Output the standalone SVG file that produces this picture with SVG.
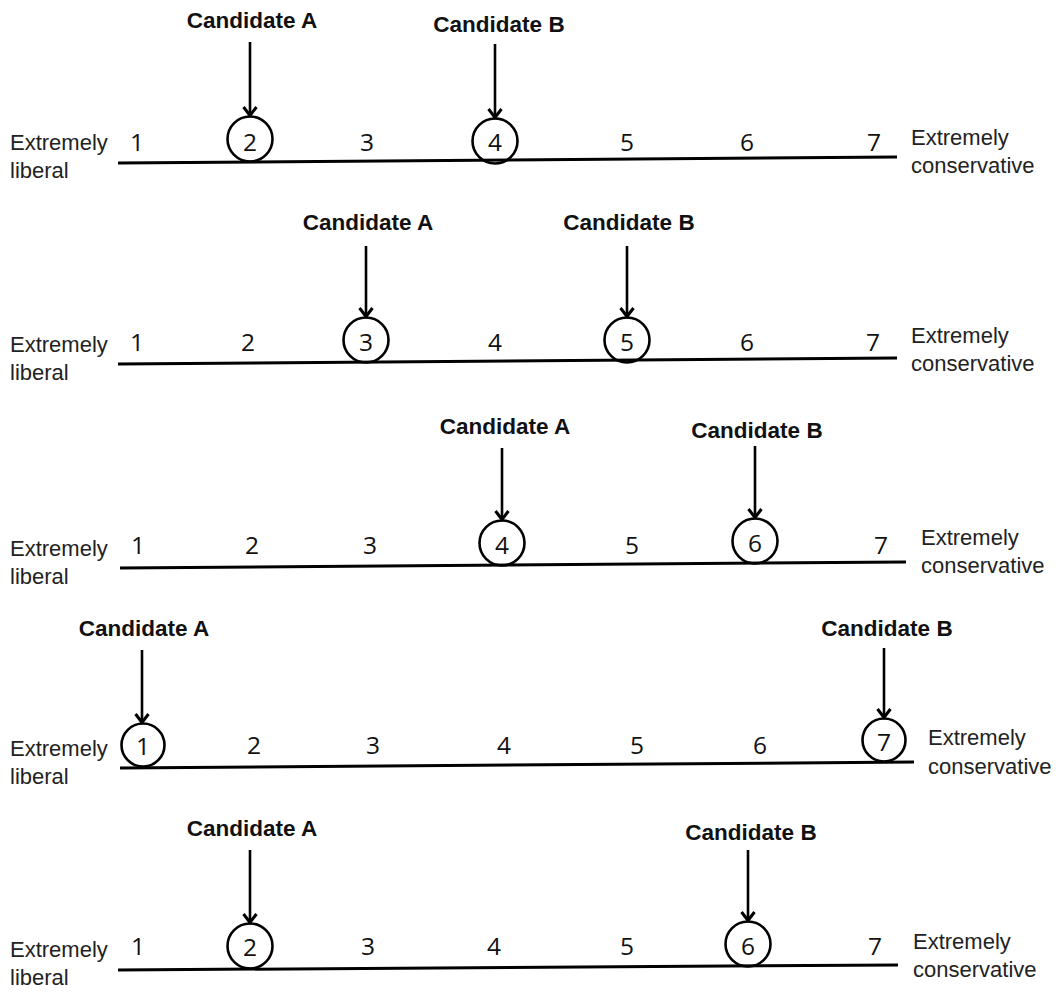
<svg xmlns="http://www.w3.org/2000/svg" width="1063" height="992" viewBox="0 0 1063 992">
<style>
.bg{fill:#fff}
.cand{font-family:"Liberation Sans",Arial,sans-serif;font-weight:bold;font-size:22.5px;fill:#111;text-anchor:middle}
.num{font-family:"Open Sans","Noto Sans",sans-serif;font-size:24.5px;fill:#111;text-anchor:middle}
.end{font-family:"Liberation Sans",Arial,sans-serif;font-size:22px;fill:#222}
.axis{stroke:#000;stroke-width:3;fill:none}
.ring{stroke:#000;stroke-width:2.6;fill:none}
.arrow{stroke:#000;stroke-width:2.6;fill:none;marker-end:url(#ah)}
</style>
<defs>
<marker id="ah" viewBox="0 0 12 16" refX="10.5" refY="8" markerWidth="12" markerHeight="16" markerUnits="userSpaceOnUse" orient="auto">
<path d="M1.5,1.5 L10,8 L1.5,14.5" stroke="#000" stroke-width="3" fill="none"/>
</marker>
</defs>
<rect class="bg" x="0" y="0" width="1063" height="992"/>

<!-- Row 1 -->
<g id="row1">
<line class="axis" x1="118" y1="163" x2="897" y2="157"/>
<text class="end" x="10" y="150">Extremely</text>
<text class="end" x="10" y="178">liberal</text>
<text class="end" x="911" y="145">Extremely</text>
<text class="end" x="911" y="173">conservative</text>
<text class="num" x="137" y="151">1</text>
<text class="num" x="367" y="151">3</text>
<text class="num" x="627" y="151">5</text>
<text class="num" x="747" y="151">6</text>
<text class="num" x="874" y="151">7</text>
<g id="r1-circle2"><circle class="ring" cx="250" cy="139" r="22.5"/><text class="num" x="250" y="151">2</text></g>
<g id="r1-circle4"><circle class="ring" cx="495" cy="141" r="22.5"/><text class="num" x="495" y="151">4</text></g>
<g id="r1-candA"><text class="cand" x="252" y="28">Candidate A</text></g>
<g id="r1-candB"><text class="cand" x="499" y="32">Candidate B</text></g>
</g>

<!-- Row 2 -->
<g id="row2">
<line class="axis" x1="118" y1="364" x2="897" y2="358"/>
<text class="end" x="10" y="352">Extremely</text>
<text class="end" x="10" y="380">liberal</text>
<text class="end" x="911" y="343">Extremely</text>
<text class="end" x="911" y="371">conservative</text>
<text class="num" x="137" y="351">1</text>
<text class="num" x="248" y="351">2</text>
<text class="num" x="495" y="351">4</text>
<text class="num" x="747" y="351">6</text>
<text class="num" x="873" y="351">7</text>
<g id="r2-circle3"><circle class="ring" cx="366" cy="340" r="22.5"/><text class="num" x="366" y="351">3</text></g>
<g id="r2-circle5"><circle class="ring" cx="627" cy="340" r="22.5"/><text class="num" x="627" y="351">5</text></g>
<g id="r2-candA"><text class="cand" x="368" y="230">Candidate A</text></g>
<g id="r2-candB"><text class="cand" x="629" y="230">Candidate B</text></g>
</g>

<!-- Row 3 -->
<g id="row3">
<line class="axis" x1="120" y1="568" x2="906" y2="562"/>
<text class="end" x="10" y="556">Extremely</text>
<text class="end" x="10" y="584">liberal</text>
<text class="end" x="921" y="545">Extremely</text>
<text class="end" x="921" y="573">conservative</text>
<text class="num" x="138" y="554">1</text>
<text class="num" x="252" y="554">2</text>
<text class="num" x="370" y="554">3</text>
<text class="num" x="632" y="554">5</text>
<text class="num" x="881" y="554">7</text>
<g id="r3-circle4"><circle class="ring" cx="502" cy="543" r="22.5"/><text class="num" x="502" y="554">4</text></g>
<g id="r3-circle6"><circle class="ring" cx="755" cy="541" r="22.5"/><text class="num" x="755" y="552">6</text></g>
<g id="r3-candA"><text class="cand" x="505" y="434">Candidate A</text></g>
<g id="r3-candB"><text class="cand" x="757" y="438">Candidate B</text></g>
</g>

<!-- Row 4 -->
<g id="row4">
<line class="axis" x1="120" y1="768" x2="914" y2="762"/>
<text class="end" x="10" y="756">Extremely</text>
<text class="end" x="10" y="784">liberal</text>
<text class="end" x="928" y="745">Extremely</text>
<text class="end" x="928" y="774">conservative</text>
<text class="num" x="254" y="754">2</text>
<text class="num" x="373" y="754">3</text>
<text class="num" x="504" y="754">4</text>
<text class="num" x="637" y="754">5</text>
<text class="num" x="760" y="754">6</text>
<g id="r4-circle1"><circle class="ring" cx="143" cy="745" r="21.5"/><text class="num" x="143" y="755">1</text></g>
<g id="r4-circle7"><circle class="ring" cx="884" cy="740" r="21.5"/><text class="num" x="884" y="751">7</text></g>
<g id="r4-candA"><text class="cand" x="144" y="636">Candidate A</text></g>
<g id="r4-candB"><text class="cand" x="887" y="636">Candidate B</text></g>
</g>

<!-- Row 5 -->
<g id="row5">
<line class="axis" x1="118" y1="970" x2="898" y2="965"/>
<text class="end" x="10" y="957">Extremely</text>
<text class="end" x="10" y="985">liberal</text>
<text class="end" x="913" y="949">Extremely</text>
<text class="end" x="913" y="977">conservative</text>
<text class="num" x="138" y="955">1</text>
<text class="num" x="368" y="955">3</text>
<text class="num" x="494" y="955">4</text>
<text class="num" x="627" y="955">5</text>
<text class="num" x="875" y="955">7</text>
<g id="r5-circle2"><circle class="ring" cx="250" cy="946" r="22.5"/><text class="num" x="250" y="956">2</text></g>
<g id="r5-circle6"><circle class="ring" cx="748" cy="944" r="22.5"/><text class="num" x="748" y="955">6</text></g>
<g id="r5-candA"><text class="cand" x="252" y="836">Candidate A</text></g>
<g id="r5-candB"><text class="cand" x="751" y="840">Candidate B</text></g>
</g>

<!-- Connectors -->
<g id="connectors">
<line class="arrow" x1="250" y1="42" x2="250" y2="116"/>
<line class="arrow" x1="495" y1="44" x2="495" y2="118"/>
<line class="arrow" x1="366" y1="246" x2="366" y2="317"/>
<line class="arrow" x1="627" y1="246" x2="627" y2="317"/>
<line class="arrow" x1="502" y1="448" x2="502" y2="520"/>
<line class="arrow" x1="755" y1="446" x2="755" y2="518"/>
<line class="arrow" x1="142" y1="650" x2="142" y2="723"/>
<line class="arrow" x1="884" y1="648" x2="884" y2="718"/>
<line class="arrow" x1="250" y1="850" x2="250" y2="923"/>
<line class="arrow" x1="748" y1="850" x2="748" y2="921"/>
</g>
</svg>
